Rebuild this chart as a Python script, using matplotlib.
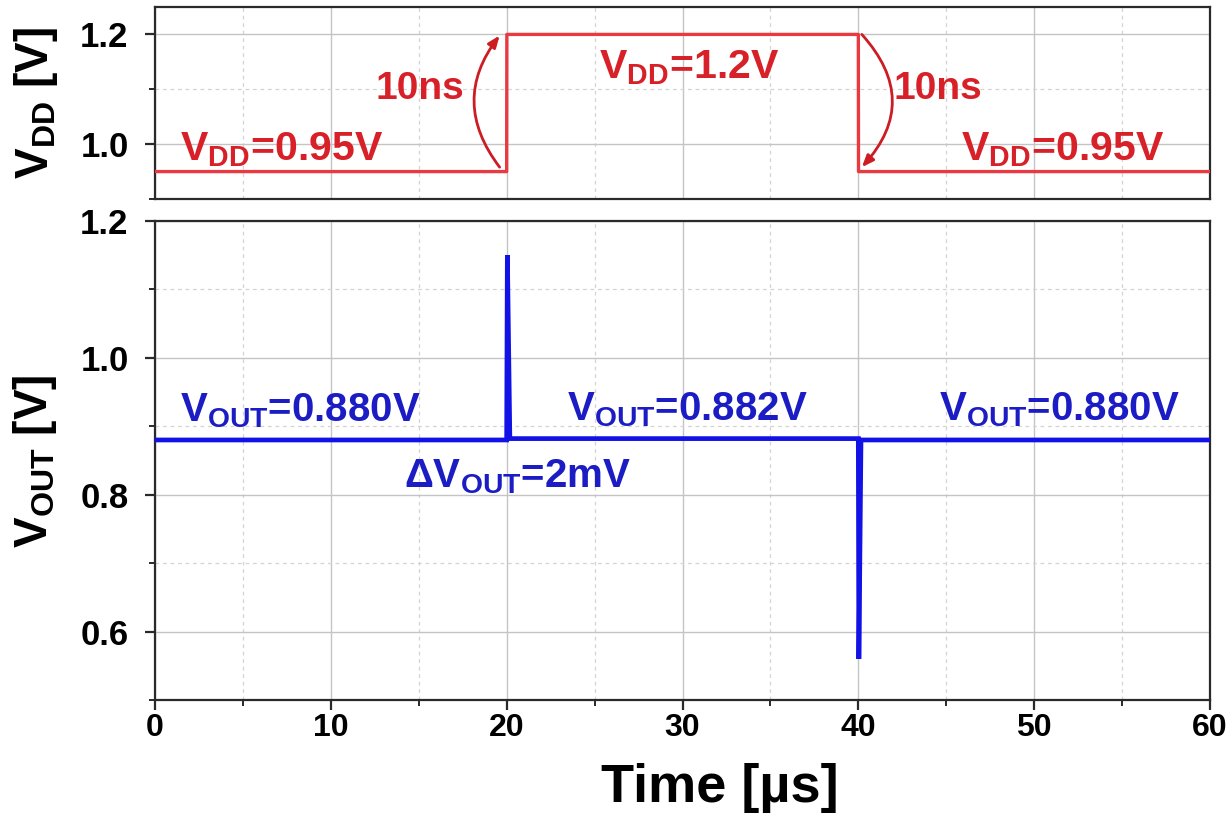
import matplotlib
matplotlib.use("Agg")
import matplotlib.pyplot as plt
from matplotlib.ticker import MultipleLocator

plt.rcParams["font.family"] = ["Liberation Sans", "DejaVu Sans"]
plt.rcParams["font.weight"] = "bold"
plt.rcParams["mathtext.fontset"] = "custom"
plt.rcParams["mathtext.rm"] = "Liberation Sans:bold"
plt.rcParams["mathtext.bf"] = "Liberation Sans:bold"
plt.rcParams["mathtext.it"] = "Liberation Sans:bold"

# ---- supply step (top panel) ----
t_vdd = [0.0, 20.0, 20.01, 40.0, 40.01, 60.0]
vdd = [0.95, 0.95, 1.2, 1.2, 0.95, 0.95]

# ---- regulator output (bottom panel) ----
t_vout = [0.0, 20.0, 20.04, 20.18, 40.0, 40.03, 40.15, 60.0]
vout = [0.880, 0.880, 1.15, 0.882, 0.882, 0.56, 0.880, 0.880]

x_ticks = [0, 10, 20, 30, 40, 50, 60]
vdd_ticks = [1.0, 1.2]
vout_ticks = [0.6, 0.8, 1.0, 1.2]

RED_LINE = "#e83a40"
RED_TEXT = "#d82028"
BLUE_LINE = "#1212e6"
BLUE_TEXT = "#1c1cc4"

W, H = 1227, 814
fig = plt.figure(figsize=(W / 100, H / 100), dpi=100)

ax1 = fig.add_axes([155 / W, 1 - 199 / H, 1055 / W, 192 / H])
ax2 = fig.add_axes([155 / W, 1 - 700 / H, 1055 / W, 479 / H])


def style(ax):
    for s in ax.spines.values():
        s.set_color("#2a2a2a")
        s.set_linewidth(1.6)
    ax.xaxis.set_minor_locator(MultipleLocator(5))
    ax.yaxis.set_minor_locator(MultipleLocator(0.1))
    ax.grid(which="major", color="#c4c4c4", lw=1.0, ls="-", zorder=0)
    ax.grid(which="minor", color="#d4d4d4", lw=0.9, ls=(0, (3, 3)), zorder=0)
    ax.set_axisbelow(True)
    ax.tick_params(axis="y", which="major", direction="out", length=7, width=1.6,
                   labelsize=25, pad=12, color="#2a2a2a")
    ax.tick_params(axis="y", which="minor", direction="out", length=4, width=1.4,
                   color="#2a2a2a")
    for lab in ax.get_yticklabels():
        lab.set_fontweight("bold")


# ---- top panel ----
ax1.plot(t_vdd, vdd, color=RED_LINE, lw=2.4, zorder=3)
ax1.set_xlim(0, 60)
ax1.set_ylim(0.9, 1.25)
ax1.set_xticks(x_ticks)
ax1.set_yticks(vdd_ticks)
ax1.set_yticklabels([f"{v:.1f}" for v in vdd_ticks])
style(ax1)
ax1.tick_params(axis="x", which="both", length=0, labelbottom=False)

ax1.text(1.4, 0.971, r"$\mathbf{V_{DD}}$=0.95V", color=RED_TEXT, fontsize=29.5,
         fontweight="bold", ha="left", va="baseline")
ax1.text(30.4, 1.12, r"$\mathbf{V_{DD}}$=1.2V", color=RED_TEXT, fontsize=29.5,
         fontweight="bold", ha="center", va="baseline")
ax1.text(57.4, 0.971, r"$\mathbf{V_{DD}}$=0.95V", color=RED_TEXT, fontsize=29.5,
         fontweight="bold", ha="right", va="baseline")
ax1.text(17.6, 1.083, "10ns", color=RED_TEXT, fontsize=28, fontweight="bold",
         ha="right", va="baseline")
ax1.text(42.0, 1.083, "10ns", color=RED_TEXT, fontsize=28, fontweight="bold",
         ha="left", va="baseline")

arrow_kw = dict(arrowstyle="-|>,head_length=0.7,head_width=0.28", color="#cc1c24",
                lw=2.0, shrinkA=0, shrinkB=0)
ax1.annotate("", xy=(19.6, 1.198), xytext=(19.6, 0.958),
             arrowprops=dict(connectionstyle="arc3,rad=-0.38", **arrow_kw))
ax1.annotate("", xy=(40.2, 0.958), xytext=(40.2, 1.2),
             arrowprops=dict(connectionstyle="arc3,rad=-0.45", **arrow_kw))

fig.text(36 / W, 1 - 103 / H, r"$\mathbf{V_{DD}}$ [V]", rotation=90, fontsize=33,
         fontweight="bold", ha="center", va="center")

# ---- bottom panel ----
ax2.plot(t_vout, vout, color=BLUE_LINE, lw=3.4, zorder=3, solid_joinstyle="miter")
ax2.set_xlim(0, 60)
ax2.set_ylim(0.5, 1.2)
ax2.set_xticks(x_ticks)
ax2.set_xticklabels([str(v) for v in x_ticks])
ax2.set_yticks(vout_ticks)
ax2.set_yticklabels([f"{v:.1f}" for v in vout_ticks])
style(ax2)
ax2.tick_params(axis="x", which="major", direction="out", length=7, width=1.6,
                labelsize=23, pad=2, color="#2a2a2a")
ax2.tick_params(axis="x", which="minor", direction="out", length=4, width=1.4,
                color="#2a2a2a")
for lab in ax2.get_xticklabels():
    lab.set_fontweight("bold")

ax2.text(1.4, 0.907, r"$\mathbf{V_{OUT}}$=0.880V", color=BLUE_TEXT, fontsize=29,
         fontweight="bold", ha="left", va="baseline")
ax2.text(30.3, 0.909, r"$\mathbf{V_{OUT}}$=0.882V", color=BLUE_TEXT, fontsize=29,
         fontweight="bold", ha="center", va="baseline")
ax2.text(58.3, 0.909, r"$\mathbf{V_{OUT}}$=0.880V", color=BLUE_TEXT, fontsize=29,
         fontweight="bold", ha="right", va="baseline")
ax2.text(20.6, 0.81, r"Δ$\mathbf{V_{OUT}}$=2mV", color=BLUE_TEXT, fontsize=29,
         fontweight="bold", ha="center", va="baseline")

fig.text(35 / W, 1 - 461 / H, r"$\mathbf{V_{OUT}}$ [V]", rotation=90, fontsize=33,
         fontweight="bold", ha="center", va="center")

fig.text(720 / W, 1 - 802 / H, "Time [µs]", fontsize=39, fontweight="bold",
         ha="center", va="baseline")

fig.savefig("out.png", dpi=100)
